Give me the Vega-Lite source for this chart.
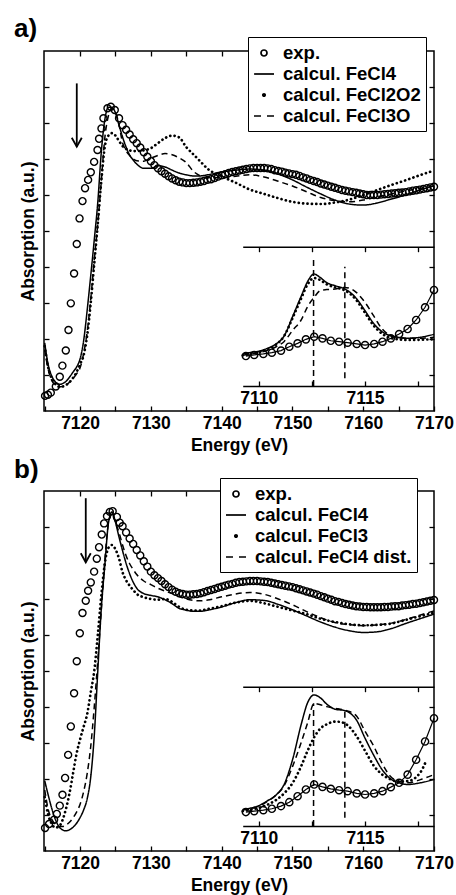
{
"$schema":"https://vega.github.io/schema/vega-lite/v6.json",
"background":"white",
"padding":{"left":13,"top":14,"right":0,"bottom":0},
"spacing":0,
"config":{
 "font":"Liberation Sans",
 "view":{"stroke":"black","strokeWidth":1.5},
 "axis":{"labelFont":"Liberation Sans","labelFontSize":17.5,"labelFontWeight":"bold","labelColor":"black","titleFont":"Liberation Sans","titleFontSize":17.5,"titleFontWeight":"bold","titleColor":"black","tickColor":"black","tickWidth":1.3,"domainColor":"black","domainWidth":1.5,"grid":false},
 "legend":{"labelFont":"Liberation Sans"},
 "title":{"font":"Liberation Sans","color":"black"}
},
"datasets":{
"aexp":[
{"E":7115.05,"A":0.42},{"E":7115.45,"A":0.45},{"E":7115.86,"A":0.51},{"E":7116.57,"A":0.68},{"E":7117.13,"A":0.95},{"E":7117.5,"A":1.26},{"E":7117.98,"A":1.68},{"E":7118.36,"A":2.25},{"E":7118.69,"A":2.99},{"E":7119.15,"A":3.82},{"E":7119.53,"A":4.64},{"E":7119.92,"A":5.35},{"E":7120.34,"A":5.83},{"E":7120.7,"A":6.19},{"E":7121.13,"A":6.42},{"E":7121.51,"A":6.63},{"E":7121.98,"A":6.92},{"E":7122.46,"A":7.25},{"E":7122.68,"A":7.56},{"E":7123.02,"A":7.85},{"E":7123.3,"A":8.13},{"E":7123.87,"A":8.41},{"E":7124.34,"A":8.45},{"E":7124.9,"A":8.36},{"E":7125.5,"A":8.13},
{"E":7126,"A":7.94},{"E":7126.5,"A":7.81},{"E":7127,"A":7.68},{"E":7127.5,"A":7.55},{"E":7128,"A":7.44},{"E":7128.5,"A":7.32},{"E":7129,"A":7.19},{"E":7129.5,"A":7.06},{"E":7130,"A":6.94},{"E":7130.5,"A":6.83},{"E":7131,"A":6.74},{"E":7131.5,"A":6.66},{"E":7132,"A":6.59},{"E":7132.5,"A":6.52},{"E":7133,"A":6.46},{"E":7133.5,"A":6.41},{"E":7134,"A":6.37},{"E":7134.5,"A":6.35},{"E":7135,"A":6.33},{"E":7135.5,"A":6.33},{"E":7136,"A":6.34},{"E":7136.5,"A":6.35},{"E":7137,"A":6.37},{"E":7137.5,"A":6.39},{"E":7138,"A":6.42},{"E":7138.5,"A":6.44},{"E":7139,"A":6.47},{"E":7139.5,"A":6.51},{"E":7140,"A":6.55},{"E":7140.5,"A":6.58},{"E":7141,"A":6.61},{"E":7141.5,"A":6.64},{"E":7142,"A":6.66},{"E":7142.5,"A":6.68},{"E":7143,"A":6.7},{"E":7143.5,"A":6.72},{"E":7144,"A":6.74},{"E":7144.5,"A":6.75},{"E":7145,"A":6.75},{"E":7145.5,"A":6.75},{"E":7146,"A":6.75},{"E":7146.5,"A":6.74},{"E":7147,"A":6.72},{"E":7147.5,"A":6.69},{"E":7148,"A":6.67},{"E":7148.5,"A":6.65},{"E":7149,"A":6.62},{"E":7149.5,"A":6.6},{"E":7150,"A":6.58},{"E":7150.5,"A":6.56},{"E":7151,"A":6.53},{"E":7151.5,"A":6.49},{"E":7152,"A":6.46},{"E":7152.5,"A":6.42},{"E":7153,"A":6.39},{"E":7153.5,"A":6.36},{"E":7154,"A":6.32},{"E":7154.5,"A":6.29},{"E":7155,"A":6.26},{"E":7155.5,"A":6.23},{"E":7156,"A":6.2},{"E":7156.5,"A":6.17},{"E":7157,"A":6.14},{"E":7157.5,"A":6.12},{"E":7158,"A":6.1},{"E":7158.5,"A":6.08},{"E":7159,"A":6.06},{"E":7159.5,"A":6.04},{"E":7160,"A":6.02},{"E":7160.5,"A":6.0},{"E":7161,"A":6.0},{"E":7161.5,"A":6.0},{"E":7162,"A":6.0},{"E":7162.5,"A":6.01},{"E":7163,"A":6.02},{"E":7163.5,"A":6.03},{"E":7164,"A":6.04},{"E":7164.5,"A":6.05},{"E":7165,"A":6.06},{"E":7165.5,"A":6.07},{"E":7166,"A":6.08},{"E":7166.5,"A":6.1},{"E":7167,"A":6.12},{"E":7167.5,"A":6.13},{"E":7168,"A":6.15},{"E":7168.5,"A":6.17},{"E":7169,"A":6.19},{"E":7169.5,"A":6.21},{"E":7170,"A":6.23}
],
"acalc":[
{"E":7115,"A":1.89,"s":"calcul. FeCl4"},{"E":7115.5,"A":1.28,"s":"calcul. FeCl4"},{"E":7116,"A":0.97,"s":"calcul. FeCl4"},{"E":7116.5,"A":0.81,"s":"calcul. FeCl4"},{"E":7117,"A":0.74,"s":"calcul. FeCl4"},{"E":7117.5,"A":0.76,"s":"calcul. FeCl4"},{"E":7118,"A":0.82,"s":"calcul. FeCl4"},{"E":7118.5,"A":0.94,"s":"calcul. FeCl4"},{"E":7119,"A":1.08,"s":"calcul. FeCl4"},{"E":7119.5,"A":1.22,"s":"calcul. FeCl4"},{"E":7120,"A":1.45,"s":"calcul. FeCl4"},{"E":7120.5,"A":1.95,"s":"calcul. FeCl4"},{"E":7121,"A":2.8,"s":"calcul. FeCl4"},{"E":7121.5,"A":3.75,"s":"calcul. FeCl4"},{"E":7122,"A":4.75,"s":"calcul. FeCl4"},{"E":7122.5,"A":5.8,"s":"calcul. FeCl4"},{"E":7123,"A":7.2,"s":"calcul. FeCl4"},{"E":7123.5,"A":8.1,"s":"calcul. FeCl4"},{"E":7124,"A":8.44,"s":"calcul. FeCl4"},{"E":7124.5,"A":8.43,"s":"calcul. FeCl4"},{"E":7125,"A":8.28,"s":"calcul. FeCl4"},{"E":7125.5,"A":7.94,"s":"calcul. FeCl4"},{"E":7126,"A":7.61,"s":"calcul. FeCl4"},{"E":7126.5,"A":7.33,"s":"calcul. FeCl4"},{"E":7127,"A":7.11,"s":"calcul. FeCl4"},{"E":7127.5,"A":6.97,"s":"calcul. FeCl4"},{"E":7128,"A":6.86,"s":"calcul. FeCl4"},{"E":7129,"A":6.74,"s":"calcul. FeCl4"},{"E":7130,"A":6.74,"s":"calcul. FeCl4"},{"E":7131,"A":6.81,"s":"calcul. FeCl4"},{"E":7132,"A":6.78,"s":"calcul. FeCl4"},{"E":7133,"A":6.69,"s":"calcul. FeCl4"},{"E":7134,"A":6.61,"s":"calcul. FeCl4"},{"E":7135,"A":6.56,"s":"calcul. FeCl4"},{"E":7136,"A":6.53,"s":"calcul. FeCl4"},{"E":7137,"A":6.53,"s":"calcul. FeCl4"},{"E":7138,"A":6.56,"s":"calcul. FeCl4"},{"E":7140,"A":6.64,"s":"calcul. FeCl4"},{"E":7142,"A":6.69,"s":"calcul. FeCl4"},{"E":7144,"A":6.72,"s":"calcul. FeCl4"},{"E":7146,"A":6.69,"s":"calcul. FeCl4"},{"E":7148,"A":6.58,"s":"calcul. FeCl4"},{"E":7150,"A":6.42,"s":"calcul. FeCl4"},{"E":7152,"A":6.22,"s":"calcul. FeCl4"},{"E":7154,"A":6.03,"s":"calcul. FeCl4"},{"E":7156,"A":5.86,"s":"calcul. FeCl4"},{"E":7158,"A":5.75,"s":"calcul. FeCl4"},{"E":7160,"A":5.72,"s":"calcul. FeCl4"},{"E":7162,"A":5.78,"s":"calcul. FeCl4"},{"E":7164,"A":5.89,"s":"calcul. FeCl4"},{"E":7166,"A":6.0,"s":"calcul. FeCl4"},{"E":7168,"A":6.14,"s":"calcul. FeCl4"},{"E":7170,"A":6.25,"s":"calcul. FeCl4"},
{"E":7115,"A":1.8,"s":"calcul. FeCl2O2"},{"E":7115.5,"A":1.2,"s":"calcul. FeCl2O2"},{"E":7116,"A":0.9,"s":"calcul. FeCl2O2"},{"E":7116.5,"A":0.75,"s":"calcul. FeCl2O2"},{"E":7117,"A":0.68,"s":"calcul. FeCl2O2"},{"E":7117.5,"A":0.68,"s":"calcul. FeCl2O2"},{"E":7118,"A":0.72,"s":"calcul. FeCl2O2"},{"E":7118.5,"A":0.8,"s":"calcul. FeCl2O2"},{"E":7119,"A":0.92,"s":"calcul. FeCl2O2"},{"E":7119.5,"A":1.08,"s":"calcul. FeCl2O2"},{"E":7120,"A":1.3,"s":"calcul. FeCl2O2"},{"E":7120.5,"A":1.55,"s":"calcul. FeCl2O2"},{"E":7121,"A":2.1,"s":"calcul. FeCl2O2"},{"E":7121.5,"A":3.0,"s":"calcul. FeCl2O2"},{"E":7122,"A":4.1,"s":"calcul. FeCl2O2"},{"E":7122.5,"A":5.2,"s":"calcul. FeCl2O2"},{"E":7123,"A":6.4,"s":"calcul. FeCl2O2"},{"E":7123.5,"A":7.35,"s":"calcul. FeCl2O2"},{"E":7124,"A":7.65,"s":"calcul. FeCl2O2"},{"E":7124.5,"A":7.72,"s":"calcul. FeCl2O2"},{"E":7125,"A":7.65,"s":"calcul. FeCl2O2"},{"E":7125.5,"A":7.5,"s":"calcul. FeCl2O2"},{"E":7126,"A":7.36,"s":"calcul. FeCl2O2"},{"E":7126.5,"A":7.28,"s":"calcul. FeCl2O2"},{"E":7127,"A":7.24,"s":"calcul. FeCl2O2"},{"E":7127.5,"A":7.22,"s":"calcul. FeCl2O2"},{"E":7128,"A":7.22,"s":"calcul. FeCl2O2"},{"E":7129,"A":7.24,"s":"calcul. FeCl2O2"},{"E":7130,"A":7.3,"s":"calcul. FeCl2O2"},{"E":7131,"A":7.44,"s":"calcul. FeCl2O2"},{"E":7132,"A":7.58,"s":"calcul. FeCl2O2"},{"E":7133,"A":7.65,"s":"calcul. FeCl2O2"},{"E":7134,"A":7.6,"s":"calcul. FeCl2O2"},{"E":7135,"A":7.33,"s":"calcul. FeCl2O2"},{"E":7136,"A":7.13,"s":"calcul. FeCl2O2"},{"E":7137,"A":6.93,"s":"calcul. FeCl2O2"},{"E":7138,"A":6.73,"s":"calcul. FeCl2O2"},{"E":7140,"A":6.52,"s":"calcul. FeCl2O2"},{"E":7142,"A":6.34,"s":"calcul. FeCl2O2"},{"E":7144,"A":6.15,"s":"calcul. FeCl2O2"},{"E":7146,"A":6.03,"s":"calcul. FeCl2O2"},{"E":7148,"A":5.91,"s":"calcul. FeCl2O2"},{"E":7150,"A":5.81,"s":"calcul. FeCl2O2"},{"E":7152,"A":5.76,"s":"calcul. FeCl2O2"},{"E":7154,"A":5.75,"s":"calcul. FeCl2O2"},{"E":7156,"A":5.79,"s":"calcul. FeCl2O2"},{"E":7158,"A":5.87,"s":"calcul. FeCl2O2"},{"E":7160,"A":6.0,"s":"calcul. FeCl2O2"},{"E":7162,"A":6.14,"s":"calcul. FeCl2O2"},{"E":7164,"A":6.28,"s":"calcul. FeCl2O2"},{"E":7166,"A":6.41,"s":"calcul. FeCl2O2"},{"E":7168,"A":6.55,"s":"calcul. FeCl2O2"},{"E":7170,"A":6.68,"s":"calcul. FeCl2O2"},
{"E":7115,"A":1.7,"s":"calcul. FeCl3O"},{"E":7115.5,"A":1.15,"s":"calcul. FeCl3O"},{"E":7116,"A":0.85,"s":"calcul. FeCl3O"},{"E":7116.5,"A":0.72,"s":"calcul. FeCl3O"},{"E":7117,"A":0.67,"s":"calcul. FeCl3O"},{"E":7117.5,"A":0.68,"s":"calcul. FeCl3O"},{"E":7118,"A":0.72,"s":"calcul. FeCl3O"},{"E":7118.5,"A":0.8,"s":"calcul. FeCl3O"},{"E":7119,"A":0.9,"s":"calcul. FeCl3O"},{"E":7119.5,"A":1.03,"s":"calcul. FeCl3O"},{"E":7120,"A":1.2,"s":"calcul. FeCl3O"},{"E":7120.5,"A":1.6,"s":"calcul. FeCl3O"},{"E":7121,"A":2.2,"s":"calcul. FeCl3O"},{"E":7121.5,"A":3.1,"s":"calcul. FeCl3O"},{"E":7122,"A":4.2,"s":"calcul. FeCl3O"},{"E":7122.5,"A":5.2,"s":"calcul. FeCl3O"},{"E":7123,"A":6.4,"s":"calcul. FeCl3O"},{"E":7123.5,"A":7.6,"s":"calcul. FeCl3O"},{"E":7124,"A":8.2,"s":"calcul. FeCl3O"},{"E":7124.5,"A":8.4,"s":"calcul. FeCl3O"},{"E":7125,"A":8.3,"s":"calcul. FeCl3O"},{"E":7125.5,"A":7.95,"s":"calcul. FeCl3O"},{"E":7126,"A":7.45,"s":"calcul. FeCl3O"},{"E":7126.5,"A":7.23,"s":"calcul. FeCl3O"},{"E":7127,"A":7.1,"s":"calcul. FeCl3O"},{"E":7127.5,"A":7.0,"s":"calcul. FeCl3O"},{"E":7128,"A":6.95,"s":"calcul. FeCl3O"},{"E":7129,"A":6.94,"s":"calcul. FeCl3O"},{"E":7130,"A":7.02,"s":"calcul. FeCl3O"},{"E":7131,"A":7.1,"s":"calcul. FeCl3O"},{"E":7132,"A":7.15,"s":"calcul. FeCl3O"},{"E":7133,"A":7.12,"s":"calcul. FeCl3O"},{"E":7134,"A":7.03,"s":"calcul. FeCl3O"},{"E":7135,"A":6.9,"s":"calcul. FeCl3O"},{"E":7136,"A":6.66,"s":"calcul. FeCl3O"},{"E":7137,"A":6.53,"s":"calcul. FeCl3O"},{"E":7138,"A":6.48,"s":"calcul. FeCl3O"},{"E":7140,"A":6.48,"s":"calcul. FeCl3O"},{"E":7142,"A":6.52,"s":"calcul. FeCl3O"},{"E":7144,"A":6.56,"s":"calcul. FeCl3O"},{"E":7146,"A":6.5,"s":"calcul. FeCl3O"},{"E":7148,"A":6.38,"s":"calcul. FeCl3O"},{"E":7150,"A":6.25,"s":"calcul. FeCl3O"},{"E":7152,"A":6.09,"s":"calcul. FeCl3O"},{"E":7154,"A":5.93,"s":"calcul. FeCl3O"},{"E":7156,"A":5.84,"s":"calcul. FeCl3O"},{"E":7158,"A":5.81,"s":"calcul. FeCl3O"},{"E":7160,"A":5.86,"s":"calcul. FeCl3O"},{"E":7162,"A":5.95,"s":"calcul. FeCl3O"},{"E":7164,"A":6.03,"s":"calcul. FeCl3O"},{"E":7166,"A":6.11,"s":"calcul. FeCl3O"},{"E":7168,"A":6.18,"s":"calcul. FeCl3O"},{"E":7170,"A":6.25,"s":"calcul. FeCl3O"}
],
"ainexp":[
{"E":7109.4,"A":2.15},{"E":7109.79,"A":2.23},{"E":7110.22,"A":2.3},{"E":7110.62,"A":2.39},{"E":7111.05,"A":2.54},{"E":7111.44,"A":2.82},{"E":7111.83,"A":3.06},{"E":7112.22,"A":3.35},{"E":7112.61,"A":3.54},{"E":7113.0,"A":3.42},{"E":7113.39,"A":3.25},{"E":7113.78,"A":3.18},{"E":7114.18,"A":3.11},{"E":7114.61,"A":3.02},{"E":7115.0,"A":2.94},{"E":7115.43,"A":3.02},{"E":7115.82,"A":3.18},{"E":7116.21,"A":3.42},{"E":7116.6,"A":3.73},{"E":7117.0,"A":4.09},{"E":7117.4,"A":4.74},{"E":7117.82,"A":5.65},{"E":7118.24,"A":6.89}
],
"aincalc":[
{"E":7109.25,"A":2.3,"s":"calcul. FeCl4"},{"E":7109.6,"A":2.4,"s":"calcul. FeCl4"},{"E":7110,"A":2.5,"s":"calcul. FeCl4"},{"E":7110.4,"A":2.7,"s":"calcul. FeCl4"},{"E":7110.8,"A":3.0,"s":"calcul. FeCl4"},{"E":7111.2,"A":3.6,"s":"calcul. FeCl4"},{"E":7111.6,"A":5.0,"s":"calcul. FeCl4"},{"E":7112,"A":6.45,"s":"calcul. FeCl4"},{"E":7112.3,"A":7.5,"s":"calcul. FeCl4"},{"E":7112.6,"A":8.04,"s":"calcul. FeCl4"},{"E":7112.9,"A":7.78,"s":"calcul. FeCl4"},{"E":7113.2,"A":7.42,"s":"calcul. FeCl4"},{"E":7113.6,"A":7.2,"s":"calcul. FeCl4"},{"E":7114,"A":7.0,"s":"calcul. FeCl4"},{"E":7114.3,"A":6.72,"s":"calcul. FeCl4"},{"E":7114.6,"A":6.27,"s":"calcul. FeCl4"},{"E":7115,"A":5.4,"s":"calcul. FeCl4"},{"E":7115.4,"A":4.5,"s":"calcul. FeCl4"},{"E":7115.8,"A":3.9,"s":"calcul. FeCl4"},{"E":7116.2,"A":3.6,"s":"calcul. FeCl4"},{"E":7116.6,"A":3.48,"s":"calcul. FeCl4"},{"E":7117,"A":3.43,"s":"calcul. FeCl4"},{"E":7117.6,"A":3.5,"s":"calcul. FeCl4"},{"E":7118.24,"A":3.71,"s":"calcul. FeCl4"},
{"E":7109.25,"A":2.2,"s":"calcul. FeCl2O2"},{"E":7109.6,"A":2.3,"s":"calcul. FeCl2O2"},{"E":7110,"A":2.42,"s":"calcul. FeCl2O2"},{"E":7110.4,"A":2.62,"s":"calcul. FeCl2O2"},{"E":7110.8,"A":2.95,"s":"calcul. FeCl2O2"},{"E":7111.2,"A":3.6,"s":"calcul. FeCl2O2"},{"E":7111.6,"A":4.9,"s":"calcul. FeCl2O2"},{"E":7112,"A":6.3,"s":"calcul. FeCl2O2"},{"E":7112.3,"A":7.3,"s":"calcul. FeCl2O2"},{"E":7112.6,"A":7.75,"s":"calcul. FeCl2O2"},{"E":7112.9,"A":7.6,"s":"calcul. FeCl2O2"},{"E":7113.2,"A":7.3,"s":"calcul. FeCl2O2"},{"E":7113.6,"A":7.08,"s":"calcul. FeCl2O2"},{"E":7114,"A":6.9,"s":"calcul. FeCl2O2"},{"E":7114.3,"A":6.62,"s":"calcul. FeCl2O2"},{"E":7114.6,"A":6.15,"s":"calcul. FeCl2O2"},{"E":7115,"A":5.25,"s":"calcul. FeCl2O2"},{"E":7115.4,"A":4.35,"s":"calcul. FeCl2O2"},{"E":7115.8,"A":3.75,"s":"calcul. FeCl2O2"},{"E":7116.2,"A":3.45,"s":"calcul. FeCl2O2"},{"E":7116.6,"A":3.35,"s":"calcul. FeCl2O2"},{"E":7117,"A":3.3,"s":"calcul. FeCl2O2"},{"E":7117.6,"A":3.32,"s":"calcul. FeCl2O2"},{"E":7118.24,"A":3.36,"s":"calcul. FeCl2O2"},
{"E":7109.25,"A":2.2,"s":"calcul. FeCl3O"},{"E":7109.6,"A":2.3,"s":"calcul. FeCl3O"},{"E":7110,"A":2.4,"s":"calcul. FeCl3O"},{"E":7110.4,"A":2.55,"s":"calcul. FeCl3O"},{"E":7110.8,"A":2.8,"s":"calcul. FeCl3O"},{"E":7111.2,"A":3.2,"s":"calcul. FeCl3O"},{"E":7111.6,"A":4.0,"s":"calcul. FeCl3O"},{"E":7112,"A":4.75,"s":"calcul. FeCl3O"},{"E":7112.3,"A":5.7,"s":"calcul. FeCl3O"},{"E":7112.6,"A":6.35,"s":"calcul. FeCl3O"},{"E":7112.9,"A":6.85,"s":"calcul. FeCl3O"},{"E":7113.2,"A":6.92,"s":"calcul. FeCl3O"},{"E":7113.6,"A":6.97,"s":"calcul. FeCl3O"},{"E":7114,"A":7.08,"s":"calcul. FeCl3O"},{"E":7114.3,"A":7.0,"s":"calcul. FeCl3O"},{"E":7114.6,"A":6.7,"s":"calcul. FeCl3O"},{"E":7115,"A":6.0,"s":"calcul. FeCl3O"},{"E":7115.4,"A":5.05,"s":"calcul. FeCl3O"},{"E":7115.8,"A":4.1,"s":"calcul. FeCl3O"},{"E":7116.2,"A":3.62,"s":"calcul. FeCl3O"},{"E":7116.6,"A":3.48,"s":"calcul. FeCl3O"},{"E":7117,"A":3.43,"s":"calcul. FeCl3O"},{"E":7117.6,"A":3.42,"s":"calcul. FeCl3O"},{"E":7118.24,"A":3.5,"s":"calcul. FeCl3O"}
],
"avl":[{"E":7112.58,"y0":0,"y1":9.05},{"E":7114.05,"y0":0.55,"y1":8.56}],
"aarrow":[{"E":7119.53,"y0":9.1,"y1":7.34}],
"bexp":[
{"E":7115.05,"A":0.64},{"E":7115.62,"A":0.75},{"E":7116.33,"A":0.87},{"E":7116.71,"A":1.03},{"E":7117.13,"A":1.26},{"E":7117.51,"A":1.56},{"E":7117.88,"A":2.03},{"E":7118.31,"A":2.67},{"E":7118.69,"A":3.46},{"E":7119.15,"A":4.38},{"E":7119.53,"A":5.27},{"E":7119.96,"A":6.05},{"E":7120.34,"A":6.61},{"E":7120.8,"A":6.95},{"E":7121.13,"A":7.23},{"E":7121.51,"A":7.46},{"E":7121.98,"A":7.76},{"E":7122.36,"A":8.12},{"E":7122.68,"A":8.44},{"E":7123.06,"A":8.79},{"E":7123.39,"A":9.1},{"E":7123.8,"A":9.3},{"E":7124.2,"A":9.42},{"E":7124.6,"A":9.44},{"E":7125.2,"A":9.28},{"E":7125.6,"A":9.12},
{"E":7126,"A":9.02},{"E":7126.5,"A":8.85},{"E":7127,"A":8.68},{"E":7127.5,"A":8.53},{"E":7128,"A":8.36},{"E":7128.5,"A":8.21},{"E":7129,"A":8.05},{"E":7129.5,"A":7.9},{"E":7130,"A":7.76},{"E":7130.5,"A":7.66},{"E":7131,"A":7.58},{"E":7131.5,"A":7.5},{"E":7132,"A":7.41},{"E":7132.5,"A":7.33},{"E":7133,"A":7.26},{"E":7133.5,"A":7.2},{"E":7134,"A":7.16},{"E":7134.5,"A":7.14},{"E":7135,"A":7.12},{"E":7135.5,"A":7.12},{"E":7136,"A":7.13},{"E":7136.5,"A":7.14},{"E":7137,"A":7.16},{"E":7137.5,"A":7.19},{"E":7138,"A":7.22},{"E":7138.5,"A":7.25},{"E":7139,"A":7.28},{"E":7139.5,"A":7.31},{"E":7140,"A":7.34},{"E":7140.5,"A":7.37},{"E":7141,"A":7.4},{"E":7141.5,"A":7.42},{"E":7142,"A":7.45},{"E":7142.5,"A":7.47},{"E":7143,"A":7.48},{"E":7143.5,"A":7.49},{"E":7144,"A":7.5},{"E":7144.5,"A":7.5},{"E":7145,"A":7.5},{"E":7145.5,"A":7.49},{"E":7146,"A":7.48},{"E":7146.5,"A":7.47},{"E":7147,"A":7.45},{"E":7147.5,"A":7.43},{"E":7148,"A":7.41},{"E":7148.5,"A":7.39},{"E":7149,"A":7.37},{"E":7149.5,"A":7.35},{"E":7150,"A":7.33},{"E":7150.5,"A":7.3},{"E":7151,"A":7.27},{"E":7151.5,"A":7.24},{"E":7152,"A":7.21},{"E":7152.5,"A":7.18},{"E":7153,"A":7.15},{"E":7153.5,"A":7.12},{"E":7154,"A":7.08},{"E":7154.5,"A":7.05},{"E":7155,"A":7.01},{"E":7155.5,"A":6.98},{"E":7156,"A":6.94},{"E":7156.5,"A":6.92},{"E":7157,"A":6.89},{"E":7157.5,"A":6.86},{"E":7158,"A":6.84},{"E":7158.5,"A":6.82},{"E":7159,"A":6.8},{"E":7159.5,"A":6.79},{"E":7160,"A":6.78},{"E":7160.5,"A":6.78},{"E":7161,"A":6.77},{"E":7161.5,"A":6.77},{"E":7162,"A":6.77},{"E":7162.5,"A":6.77},{"E":7163,"A":6.78},{"E":7163.5,"A":6.78},{"E":7164,"A":6.79},{"E":7164.5,"A":6.8},{"E":7165,"A":6.8},{"E":7165.5,"A":6.82},{"E":7166,"A":6.83},{"E":7166.5,"A":6.84},{"E":7167,"A":6.86},{"E":7167.5,"A":6.87},{"E":7168,"A":6.89},{"E":7168.5,"A":6.91},{"E":7169,"A":6.93},{"E":7169.5,"A":6.95},{"E":7170,"A":6.97}
],
"bcalc":[
{"E":7115,"A":1.95,"s":"calcul. FeCl4"},{"E":7115.5,"A":1.55,"s":"calcul. FeCl4"},{"E":7116,"A":1.18,"s":"calcul. FeCl4"},{"E":7116.5,"A":0.88,"s":"calcul. FeCl4"},{"E":7117,"A":0.68,"s":"calcul. FeCl4"},{"E":7117.5,"A":0.59,"s":"calcul. FeCl4"},{"E":7118,"A":0.56,"s":"calcul. FeCl4"},{"E":7118.5,"A":0.59,"s":"calcul. FeCl4"},{"E":7119,"A":0.66,"s":"calcul. FeCl4"},{"E":7119.5,"A":0.77,"s":"calcul. FeCl4"},{"E":7120,"A":0.93,"s":"calcul. FeCl4"},{"E":7120.5,"A":1.14,"s":"calcul. FeCl4"},{"E":7121,"A":1.45,"s":"calcul. FeCl4"},{"E":7121.5,"A":2.05,"s":"calcul. FeCl4"},{"E":7122,"A":3.2,"s":"calcul. FeCl4"},{"E":7122.5,"A":5.0,"s":"calcul. FeCl4"},{"E":7123,"A":6.75,"s":"calcul. FeCl4"},{"E":7123.5,"A":7.95,"s":"calcul. FeCl4"},{"E":7124,"A":9.1,"s":"calcul. FeCl4"},{"E":7124.5,"A":9.42,"s":"calcul. FeCl4"},{"E":7125,"A":9.13,"s":"calcul. FeCl4"},{"E":7125.5,"A":8.72,"s":"calcul. FeCl4"},{"E":7126,"A":8.34,"s":"calcul. FeCl4"},{"E":7126.5,"A":7.99,"s":"calcul. FeCl4"},{"E":7127,"A":7.7,"s":"calcul. FeCl4"},{"E":7127.5,"A":7.47,"s":"calcul. FeCl4"},{"E":7128,"A":7.3,"s":"calcul. FeCl4"},{"E":7129,"A":7.15,"s":"calcul. FeCl4"},{"E":7130,"A":7.1,"s":"calcul. FeCl4"},{"E":7131,"A":7.06,"s":"calcul. FeCl4"},{"E":7132,"A":6.98,"s":"calcul. FeCl4"},{"E":7133,"A":6.87,"s":"calcul. FeCl4"},{"E":7134,"A":6.74,"s":"calcul. FeCl4"},{"E":7135,"A":6.69,"s":"calcul. FeCl4"},{"E":7136,"A":6.66,"s":"calcul. FeCl4"},{"E":7137,"A":6.66,"s":"calcul. FeCl4"},{"E":7138,"A":6.69,"s":"calcul. FeCl4"},{"E":7140,"A":6.78,"s":"calcul. FeCl4"},{"E":7142,"A":6.9,"s":"calcul. FeCl4"},{"E":7144,"A":6.98,"s":"calcul. FeCl4"},{"E":7146,"A":6.96,"s":"calcul. FeCl4"},{"E":7148,"A":6.85,"s":"calcul. FeCl4"},{"E":7150,"A":6.7,"s":"calcul. FeCl4"},{"E":7152,"A":6.53,"s":"calcul. FeCl4"},{"E":7154,"A":6.36,"s":"calcul. FeCl4"},{"E":7156,"A":6.22,"s":"calcul. FeCl4"},{"E":7158,"A":6.12,"s":"calcul. FeCl4"},{"E":7160,"A":6.07,"s":"calcul. FeCl4"},{"E":7162,"A":6.09,"s":"calcul. FeCl4"},{"E":7164,"A":6.18,"s":"calcul. FeCl4"},{"E":7166,"A":6.32,"s":"calcul. FeCl4"},{"E":7168,"A":6.45,"s":"calcul. FeCl4"},{"E":7170,"A":6.58,"s":"calcul. FeCl4"},
{"E":7115,"A":1.5,"s":"calcul. FeCl3"},{"E":7115.5,"A":1.0,"s":"calcul. FeCl3"},{"E":7116,"A":0.75,"s":"calcul. FeCl3"},{"E":7116.5,"A":0.65,"s":"calcul. FeCl3"},{"E":7117,"A":0.68,"s":"calcul. FeCl3"},{"E":7117.5,"A":0.85,"s":"calcul. FeCl3"},{"E":7118,"A":1.17,"s":"calcul. FeCl3"},{"E":7118.5,"A":1.6,"s":"calcul. FeCl3"},{"E":7119,"A":2.15,"s":"calcul. FeCl3"},{"E":7119.5,"A":2.7,"s":"calcul. FeCl3"},{"E":7120,"A":3.1,"s":"calcul. FeCl3"},{"E":7120.5,"A":3.45,"s":"calcul. FeCl3"},{"E":7121,"A":3.8,"s":"calcul. FeCl3"},{"E":7121.5,"A":4.4,"s":"calcul. FeCl3"},{"E":7122,"A":5.0,"s":"calcul. FeCl3"},{"E":7122.5,"A":6.0,"s":"calcul. FeCl3"},{"E":7123,"A":7.1,"s":"calcul. FeCl3"},{"E":7123.5,"A":8.0,"s":"calcul. FeCl3"},{"E":7124,"A":8.42,"s":"calcul. FeCl3"},{"E":7124.5,"A":8.5,"s":"calcul. FeCl3"},{"E":7125,"A":8.38,"s":"calcul. FeCl3"},{"E":7125.5,"A":8.12,"s":"calcul. FeCl3"},{"E":7126,"A":7.74,"s":"calcul. FeCl3"},{"E":7126.5,"A":7.52,"s":"calcul. FeCl3"},{"E":7127,"A":7.37,"s":"calcul. FeCl3"},{"E":7127.5,"A":7.25,"s":"calcul. FeCl3"},{"E":7128,"A":7.14,"s":"calcul. FeCl3"},{"E":7129,"A":7.05,"s":"calcul. FeCl3"},{"E":7130,"A":7.0,"s":"calcul. FeCl3"},{"E":7131,"A":6.98,"s":"calcul. FeCl3"},{"E":7132,"A":7.0,"s":"calcul. FeCl3"},{"E":7133,"A":6.92,"s":"calcul. FeCl3"},{"E":7134,"A":6.78,"s":"calcul. FeCl3"},{"E":7135,"A":6.7,"s":"calcul. FeCl3"},{"E":7136,"A":6.68,"s":"calcul. FeCl3"},{"E":7137,"A":6.68,"s":"calcul. FeCl3"},{"E":7138,"A":6.72,"s":"calcul. FeCl3"},{"E":7140,"A":6.8,"s":"calcul. FeCl3"},{"E":7142,"A":6.9,"s":"calcul. FeCl3"},{"E":7144,"A":6.95,"s":"calcul. FeCl3"},{"E":7146,"A":6.88,"s":"calcul. FeCl3"},{"E":7148,"A":6.78,"s":"calcul. FeCl3"},{"E":7150,"A":6.68,"s":"calcul. FeCl3"},{"E":7152,"A":6.58,"s":"calcul. FeCl3"},{"E":7154,"A":6.45,"s":"calcul. FeCl3"},{"E":7156,"A":6.36,"s":"calcul. FeCl3"},{"E":7158,"A":6.3,"s":"calcul. FeCl3"},{"E":7160,"A":6.27,"s":"calcul. FeCl3"},{"E":7162,"A":6.28,"s":"calcul. FeCl3"},{"E":7164,"A":6.32,"s":"calcul. FeCl3"},{"E":7166,"A":6.42,"s":"calcul. FeCl3"},{"E":7168,"A":6.52,"s":"calcul. FeCl3"},{"E":7170,"A":6.62,"s":"calcul. FeCl3"},
{"E":7115,"A":1.7,"s":"calcul. FeCl4 dist."},{"E":7115.5,"A":1.15,"s":"calcul. FeCl4 dist."},{"E":7116,"A":0.88,"s":"calcul. FeCl4 dist."},{"E":7116.5,"A":0.74,"s":"calcul. FeCl4 dist."},{"E":7117,"A":0.68,"s":"calcul. FeCl4 dist."},{"E":7117.5,"A":0.68,"s":"calcul. FeCl4 dist."},{"E":7118,"A":0.72,"s":"calcul. FeCl4 dist."},{"E":7118.5,"A":0.8,"s":"calcul. FeCl4 dist."},{"E":7119,"A":0.92,"s":"calcul. FeCl4 dist."},{"E":7119.5,"A":1.08,"s":"calcul. FeCl4 dist."},{"E":7120,"A":1.3,"s":"calcul. FeCl4 dist."},{"E":7120.5,"A":1.65,"s":"calcul. FeCl4 dist."},{"E":7121,"A":2.15,"s":"calcul. FeCl4 dist."},{"E":7121.5,"A":2.9,"s":"calcul. FeCl4 dist."},{"E":7122,"A":4.0,"s":"calcul. FeCl4 dist."},{"E":7122.5,"A":5.3,"s":"calcul. FeCl4 dist."},{"E":7123,"A":6.7,"s":"calcul. FeCl4 dist."},{"E":7123.5,"A":8.1,"s":"calcul. FeCl4 dist."},{"E":7124,"A":9.1,"s":"calcul. FeCl4 dist."},{"E":7124.5,"A":9.38,"s":"calcul. FeCl4 dist."},{"E":7125,"A":9.12,"s":"calcul. FeCl4 dist."},{"E":7125.5,"A":8.85,"s":"calcul. FeCl4 dist."},{"E":7126,"A":8.5,"s":"calcul. FeCl4 dist."},{"E":7126.5,"A":8.2,"s":"calcul. FeCl4 dist."},{"E":7127,"A":7.98,"s":"calcul. FeCl4 dist."},{"E":7127.5,"A":7.82,"s":"calcul. FeCl4 dist."},{"E":7128,"A":7.68,"s":"calcul. FeCl4 dist."},{"E":7129,"A":7.5,"s":"calcul. FeCl4 dist."},{"E":7130,"A":7.4,"s":"calcul. FeCl4 dist."},{"E":7131,"A":7.3,"s":"calcul. FeCl4 dist."},{"E":7132,"A":7.22,"s":"calcul. FeCl4 dist."},{"E":7133,"A":7.15,"s":"calcul. FeCl4 dist."},{"E":7134,"A":7.07,"s":"calcul. FeCl4 dist."},{"E":7135,"A":7.0,"s":"calcul. FeCl4 dist."},{"E":7136,"A":6.96,"s":"calcul. FeCl4 dist."},{"E":7137,"A":6.95,"s":"calcul. FeCl4 dist."},{"E":7138,"A":6.97,"s":"calcul. FeCl4 dist."},{"E":7140,"A":7.06,"s":"calcul. FeCl4 dist."},{"E":7142,"A":7.14,"s":"calcul. FeCl4 dist."},{"E":7144,"A":7.18,"s":"calcul. FeCl4 dist."},{"E":7146,"A":7.13,"s":"calcul. FeCl4 dist."},{"E":7148,"A":7.0,"s":"calcul. FeCl4 dist."},{"E":7150,"A":6.84,"s":"calcul. FeCl4 dist."},{"E":7152,"A":6.65,"s":"calcul. FeCl4 dist."},{"E":7154,"A":6.48,"s":"calcul. FeCl4 dist."},{"E":7156,"A":6.35,"s":"calcul. FeCl4 dist."},{"E":7158,"A":6.29,"s":"calcul. FeCl4 dist."},{"E":7160,"A":6.26,"s":"calcul. FeCl4 dist."},{"E":7162,"A":6.28,"s":"calcul. FeCl4 dist."},{"E":7164,"A":6.33,"s":"calcul. FeCl4 dist."},{"E":7166,"A":6.43,"s":"calcul. FeCl4 dist."},{"E":7168,"A":6.55,"s":"calcul. FeCl4 dist."},{"E":7170,"A":6.67,"s":"calcul. FeCl4 dist."}
],
"binexp":[
{"E":7109.4,"A":1.0},{"E":7109.79,"A":1.07},{"E":7110.22,"A":1.14},{"E":7110.62,"A":1.24},{"E":7111.05,"A":1.43},{"E":7111.44,"A":1.71},{"E":7111.83,"A":2.14},{"E":7112.22,"A":2.62},{"E":7112.61,"A":2.98},{"E":7113.0,"A":2.81},{"E":7113.39,"A":2.67},{"E":7113.78,"A":2.57},{"E":7114.18,"A":2.5},{"E":7114.61,"A":2.34},{"E":7115.0,"A":2.26},{"E":7115.43,"A":2.34},{"E":7115.82,"A":2.5},{"E":7116.21,"A":2.79},{"E":7116.6,"A":3.1},{"E":7117.0,"A":3.69},{"E":7117.4,"A":4.76},{"E":7117.82,"A":6.07},{"E":7118.24,"A":7.74}
],
"bincalc":[
{"E":7109.25,"A":1.19,"s":"calcul. FeCl4"},{"E":7109.6,"A":1.28,"s":"calcul. FeCl4"},{"E":7110,"A":1.45,"s":"calcul. FeCl4"},{"E":7110.4,"A":1.8,"s":"calcul. FeCl4"},{"E":7110.8,"A":2.2,"s":"calcul. FeCl4"},{"E":7111.2,"A":3.0,"s":"calcul. FeCl4"},{"E":7111.6,"A":4.8,"s":"calcul. FeCl4"},{"E":7112,"A":7.3,"s":"calcul. FeCl4"},{"E":7112.3,"A":8.85,"s":"calcul. FeCl4"},{"E":7112.6,"A":9.41,"s":"calcul. FeCl4"},{"E":7112.9,"A":9.2,"s":"calcul. FeCl4"},{"E":7113.2,"A":8.75,"s":"calcul. FeCl4"},{"E":7113.6,"A":8.38,"s":"calcul. FeCl4"},{"E":7114,"A":8.3,"s":"calcul. FeCl4"},{"E":7114.3,"A":8.1,"s":"calcul. FeCl4"},{"E":7114.6,"A":7.6,"s":"calcul. FeCl4"},{"E":7115,"A":6.3,"s":"calcul. FeCl4"},{"E":7115.4,"A":5.1,"s":"calcul. FeCl4"},{"E":7115.8,"A":4.05,"s":"calcul. FeCl4"},{"E":7116.2,"A":3.38,"s":"calcul. FeCl4"},{"E":7116.6,"A":3.1,"s":"calcul. FeCl4"},{"E":7117,"A":2.98,"s":"calcul. FeCl4"},{"E":7117.6,"A":3.1,"s":"calcul. FeCl4"},{"E":7118.24,"A":3.34,"s":"calcul. FeCl4"},
{"E":7109.25,"A":1.07,"s":"calcul. FeCl3"},{"E":7109.6,"A":1.15,"s":"calcul. FeCl3"},{"E":7110,"A":1.3,"s":"calcul. FeCl3"},{"E":7110.4,"A":1.52,"s":"calcul. FeCl3"},{"E":7110.8,"A":1.85,"s":"calcul. FeCl3"},{"E":7111.2,"A":2.35,"s":"calcul. FeCl3"},{"E":7111.6,"A":3.1,"s":"calcul. FeCl3"},{"E":7112,"A":4.3,"s":"calcul. FeCl3"},{"E":7112.3,"A":5.4,"s":"calcul. FeCl3"},{"E":7112.6,"A":6.35,"s":"calcul. FeCl3"},{"E":7112.9,"A":7.0,"s":"calcul. FeCl3"},{"E":7113.2,"A":7.3,"s":"calcul. FeCl3"},{"E":7113.6,"A":7.5,"s":"calcul. FeCl3"},{"E":7114,"A":7.4,"s":"calcul. FeCl3"},{"E":7114.3,"A":7.05,"s":"calcul. FeCl3"},{"E":7114.6,"A":6.45,"s":"calcul. FeCl3"},{"E":7115,"A":5.4,"s":"calcul. FeCl3"},{"E":7115.4,"A":4.35,"s":"calcul. FeCl3"},{"E":7115.8,"A":3.7,"s":"calcul. FeCl3"},{"E":7116.2,"A":3.35,"s":"calcul. FeCl3"},{"E":7116.6,"A":3.2,"s":"calcul. FeCl3"},{"E":7117,"A":3.22,"s":"calcul. FeCl3"},{"E":7117.6,"A":3.85,"s":"calcul. FeCl3"},{"E":7117.85,"A":4.6,"s":"calcul. FeCl3"},
{"E":7109.25,"A":1.15,"s":"calcul. FeCl4 dist."},{"E":7109.6,"A":1.25,"s":"calcul. FeCl4 dist."},{"E":7110,"A":1.42,"s":"calcul. FeCl4 dist."},{"E":7110.4,"A":1.75,"s":"calcul. FeCl4 dist."},{"E":7110.8,"A":2.2,"s":"calcul. FeCl4 dist."},{"E":7111.2,"A":2.9,"s":"calcul. FeCl4 dist."},{"E":7111.6,"A":4.3,"s":"calcul. FeCl4 dist."},{"E":7112,"A":6.0,"s":"calcul. FeCl4 dist."},{"E":7112.3,"A":7.4,"s":"calcul. FeCl4 dist."},{"E":7112.6,"A":8.8,"s":"calcul. FeCl4 dist."},{"E":7112.9,"A":8.7,"s":"calcul. FeCl4 dist."},{"E":7113.2,"A":8.57,"s":"calcul. FeCl4 dist."},{"E":7113.6,"A":8.45,"s":"calcul. FeCl4 dist."},{"E":7114,"A":8.33,"s":"calcul. FeCl4 dist."},{"E":7114.3,"A":8.2,"s":"calcul. FeCl4 dist."},{"E":7114.6,"A":7.9,"s":"calcul. FeCl4 dist."},{"E":7115,"A":6.8,"s":"calcul. FeCl4 dist."},{"E":7115.4,"A":5.75,"s":"calcul. FeCl4 dist."},{"E":7115.8,"A":4.5,"s":"calcul. FeCl4 dist."},{"E":7116.2,"A":3.55,"s":"calcul. FeCl4 dist."},{"E":7116.6,"A":3.2,"s":"calcul. FeCl4 dist."},{"E":7117,"A":3.1,"s":"calcul. FeCl4 dist."},{"E":7117.6,"A":3.33,"s":"calcul. FeCl4 dist."},{"E":7118.24,"A":3.69,"s":"calcul. FeCl4 dist."}
],
"bvl":[{"E":7112.58,"y0":0,"y1":8.81},{"E":7114.05,"y0":0.6,"y1":8.38}],
"barrow":[{"E":7120.8,"y0":9.8,"y1":8.02}]
},
"vconcat":[
{
"title":{"text":"a)","anchor":"start","frame":"group","fontSize":26,"fontWeight":"bold","dx":-30,"offset":-5},
"width":390,"height":360,
"layer":[
 {"layer":[
  {"data":{"name":"aexp"},
   "mark":{"type":"point","filled":false,"stroke":"black","strokeWidth":1.4,"size":550,"opacity":1},
   "encoding":{
    "x":{"field":"E","type":"quantitative","scale":{"domain":[7114.9,7170],"nice":false,"zero":false},
         "axis":{"orient":"bottom","values":[7115,7120,7125,7130,7135,7140,7145,7150,7155,7160,7165,7170],"format":"d","labelExpr":"datum.value % 10 == 0 ? datum.label : ''","tickSize":-5,"labelPadding":8,"domain":false,"labelFlush":false,"labelOverlap":false,"title":"Energy (eV)","titlePadding":5}},
    "y":{"field":"A","type":"quantitative","scale":{"domain":[0,10],"nice":false,"zero":false},
         "axis":{"orient":"left","values":[1,2,3,4,5,6,7,8,9],"tickSize":-5,"labels":false,"domain":false,"title":"Absorption (a.u.)","titlePadding":6}},
    "shape":{"datum":"exp.","type":"nominal",
      "scale":{"domain":["exp.","calcul. FeCl4","calcul. FeCl2O2","calcul. FeCl3O"],"range":["M-0.3,0A0.3,0.3 0 1,0 0.3,0A0.3,0.3 0 1,0 -0.3,0","M-1,0L1,0","M-0.12,0A0.12,0.12 0 1,0 0.12,0A0.12,0.12 0 1,0 -0.12,0M-0.05,0L0.05,0","M-1,0L-0.3,0M0.3,0L1,0"]},
      "legend":{"orient":"none","legendX":204,"legendY":-14,"title":null,"strokeColor":"black","fillColor":"white","padding":5,"labelFontSize":18.5,"labelFontWeight":"bold","labelColor":"black","labelOffset":8,"rowPadding":-0.7,"symbolSize":400,"symbolStrokeWidth":1.7,"symbolStrokeColor":"black","symbolFillColor":"transparent","labelLimit":400,"labelExpr":"datum.label + '    '"}}}},
  {"data":{"name":"acalc"},
   "transform":[{"filter":"datum.s !== 'calcul. FeCl2O2'"}],
   "mark":{"type":"line","color":"black","interpolate":"monotone","strokeWidth":1.5},
   "encoding":{
    "x":{"field":"E","type":"quantitative","scale":{"domain":[7114.9,7170],"nice":false,"zero":false},
         "axis":{"orient":"top","values":[7120,7125,7130,7135,7140,7145,7150,7155,7160,7165],"tickSize":-5,"labels":false,"domain":false,"title":null}},
    "y":{"field":"A","type":"quantitative","scale":{"domain":[0,10],"nice":false,"zero":false},
         "axis":{"orient":"right","values":[1,2,3,4,5,6,7,8,9],"tickSize":-5,"labels":false,"domain":false,"title":null}},
    "strokeDash":{"field":"s","type":"nominal","scale":{"domain":["calcul. FeCl4","calcul. FeCl3O"],"range":[[1,0],[6,4]]},"legend":null}}},
  {"data":{"name":"acalc"},
   "transform":[{"filter":"datum.s === 'calcul. FeCl2O2'"}],
   "mark":{"type":"line","color":"black","interpolate":"monotone","strokeWidth":2.7,"strokeDash":[0.1,4.3],"strokeCap":"round"},
   "encoding":{
    "x":{"field":"E","type":"quantitative","scale":{"domain":[7114.9,7170],"nice":false,"zero":false},"axis":null},
    "y":{"field":"A","type":"quantitative","scale":{"domain":[0,10],"nice":false,"zero":false},"axis":null}}},
  {"data":{"name":"aarrow"},
   "mark":{"type":"rule","color":"black","strokeWidth":1.8},
   "encoding":{
    "x":{"field":"E","type":"quantitative","scale":{"domain":[7114.9,7170],"nice":false,"zero":false},"axis":null},
    "y":{"field":"y0","type":"quantitative","scale":{"domain":[0,10],"nice":false,"zero":false},"axis":null},
    "y2":{"field":"y1"}}},
  {"data":{"name":"aarrow"},
   "mark":{"type":"point","shape":"M-1,-1.8L0,0L1,-1.8","filled":false,"stroke":"black","strokeWidth":1.8,"size":100,"opacity":1},
   "encoding":{
    "x":{"field":"E","type":"quantitative","scale":{"domain":[7114.9,7170],"nice":false,"zero":false},"axis":null},
    "y":{"field":"y1","type":"quantitative","scale":{"domain":[0,10],"nice":false,"zero":false},"axis":null}}}
 ],
 "resolve":{"axis":{"x":"independent","y":"independent"}}},
 {"layer":[
  {"data":{"name":"aincalc"},
   "transform":[{"filter":"datum.s !== 'calcul. FeCl2O2'"}],
   "mark":{"type":"line","color":"black","interpolate":"monotone","strokeWidth":1.5},
   "encoding":{
    "x":{"field":"E","type":"quantitative","scale":{"domain":[7109.25,7118.24],"range":[198.7,390],"nice":false,"zero":false},
         "axis":{"orient":"bottom","offset":-25,"values":[7110,7112.5,7115,7117.5],"format":"d","labelExpr":"datum.value % 5 == 0 ? datum.label : ''","tickSize":-5,"labelPadding":8,"domain":true,"labelFlush":false,"labelOverlap":false,"title":null}},
    "y":{"field":"A","type":"quantitative","scale":{"domain":[0,10],"range":[335,195.7],"nice":false,"zero":false},
         "axis":{"orient":"left","offset":-198.7,"ticks":false,"labels":false,"domain":true,"title":null}},
    "strokeDash":{"field":"s","type":"nominal","legend":null}}},
  {"data":{"name":"aincalc"},
   "transform":[{"filter":"datum.s === 'calcul. FeCl2O2'"}],
   "mark":{"type":"line","color":"black","interpolate":"monotone","strokeWidth":2.7,"strokeDash":[0.1,4.3],"strokeCap":"round"},
   "encoding":{
    "x":{"field":"E","type":"quantitative","scale":{"domain":[7109.25,7118.24],"range":[198.7,390],"nice":false,"zero":false},"axis":null},
    "y":{"field":"A","type":"quantitative","scale":{"domain":[0,10],"range":[335,195.7],"nice":false,"zero":false},"axis":null}}},
  {"data":{"name":"ainexp"},
   "mark":{"type":"line","color":"black","strokeWidth":1.2},
   "encoding":{
    "x":{"field":"E","type":"quantitative","scale":{"domain":[7109.25,7118.24],"range":[198.7,390],"nice":false,"zero":false},
         "axis":{"orient":"top","offset":-195.7,"values":[7110,7112.5,7115,7117.5],"tickSize":-5,"labels":false,"domain":true,"title":null}},
    "y":{"field":"A","type":"quantitative","scale":{"domain":[0,10],"range":[335,195.7],"nice":false,"zero":false},"axis":null}}},
  {"data":{"name":"ainexp"},
   "mark":{"type":"point","shape":"circle","filled":false,"stroke":"black","strokeWidth":1.4,"size":52,"opacity":1},
   "encoding":{
    "x":{"field":"E","type":"quantitative","scale":{"domain":[7109.25,7118.24],"range":[198.7,390],"nice":false,"zero":false},"axis":null},
    "y":{"field":"A","type":"quantitative","scale":{"domain":[0,10],"range":[335,195.7],"nice":false,"zero":false},"axis":null}}},
  {"data":{"name":"avl"},
   "mark":{"type":"rule","color":"black","strokeWidth":1.5,"strokeDash":[6,4]},
   "encoding":{
    "x":{"field":"E","type":"quantitative","scale":{"domain":[7109.25,7118.24],"range":[198.7,390],"nice":false,"zero":false},"axis":null},
    "y":{"field":"y0","type":"quantitative","scale":{"domain":[0,10],"range":[335,195.7],"nice":false,"zero":false},"axis":null},
    "y2":{"field":"y1"}}}
 ],
 "resolve":{"axis":{"x":"independent"}}}
],
"resolve":{"scale":{"x":"independent","y":"independent"}}
},
{
"title":{"text":"b)","anchor":"start","frame":"group","fontSize":26,"fontWeight":"bold","dx":-30,"offset":-5},
"width":390,"height":360,
"layer":[
 {"layer":[
  {"data":{"name":"bexp"},
   "mark":{"type":"point","filled":false,"stroke":"black","strokeWidth":1.4,"size":550,"opacity":1},
   "encoding":{
    "x":{"field":"E","type":"quantitative","scale":{"domain":[7114.9,7170],"nice":false,"zero":false},
         "axis":{"orient":"bottom","values":[7115,7120,7125,7130,7135,7140,7145,7150,7155,7160,7165,7170],"format":"d","labelExpr":"datum.value % 10 == 0 ? datum.label : ''","tickSize":-5,"labelPadding":8,"domain":false,"labelFlush":false,"labelOverlap":false,"title":"Energy (eV)","titlePadding":5}},
    "y":{"field":"A","type":"quantitative","scale":{"domain":[0,10],"nice":false,"zero":false},
         "axis":{"orient":"left","values":[1,2,3,4,5,6,7,8,9],"tickSize":-5,"labels":false,"domain":false,"title":"Absorption (a.u.)","titlePadding":6}},
    "shape":{"datum":"exp.","type":"nominal",
      "scale":{"domain":["exp.","calcul. FeCl4","calcul. FeCl3","calcul. FeCl4 dist."],"range":["M-0.3,0A0.3,0.3 0 1,0 0.3,0A0.3,0.3 0 1,0 -0.3,0","M-1,0L1,0","M-0.12,0A0.12,0.12 0 1,0 0.12,0A0.12,0.12 0 1,0 -0.12,0M-0.05,0L0.05,0","M-1,0L-0.3,0M0.3,0L1,0"]},
      "legend":{"orient":"none","legendX":176,"legendY":-13,"title":null,"strokeColor":"black","fillColor":"white","padding":5,"labelFontSize":18.5,"labelFontWeight":"bold","labelColor":"black","labelOffset":8,"rowPadding":-0.7,"symbolSize":400,"symbolStrokeWidth":1.7,"symbolStrokeColor":"black","symbolFillColor":"transparent","labelLimit":400,"labelExpr":"datum.label + '    '"}}}},
  {"data":{"name":"bcalc"},
   "transform":[{"filter":"datum.s !== 'calcul. FeCl3'"}],
   "mark":{"type":"line","color":"black","interpolate":"monotone","strokeWidth":1.5},
   "encoding":{
    "x":{"field":"E","type":"quantitative","scale":{"domain":[7114.9,7170],"nice":false,"zero":false},
         "axis":{"orient":"top","values":[7120,7125,7130,7135,7140,7145,7150,7155,7160,7165],"tickSize":-5,"labels":false,"domain":false,"title":null}},
    "y":{"field":"A","type":"quantitative","scale":{"domain":[0,10],"nice":false,"zero":false},
         "axis":{"orient":"right","values":[1,2,3,4,5,6,7,8,9],"tickSize":-5,"labels":false,"domain":false,"title":null}},
    "strokeDash":{"field":"s","type":"nominal","scale":{"domain":["calcul. FeCl4","calcul. FeCl4 dist."],"range":[[1,0],[6,4]]},"legend":null}}},
  {"data":{"name":"bcalc"},
   "transform":[{"filter":"datum.s === 'calcul. FeCl3'"}],
   "mark":{"type":"line","color":"black","interpolate":"monotone","strokeWidth":2.7,"strokeDash":[0.1,4.3],"strokeCap":"round"},
   "encoding":{
    "x":{"field":"E","type":"quantitative","scale":{"domain":[7114.9,7170],"nice":false,"zero":false},"axis":null},
    "y":{"field":"A","type":"quantitative","scale":{"domain":[0,10],"nice":false,"zero":false},"axis":null}}},
  {"data":{"name":"barrow"},
   "mark":{"type":"rule","color":"black","strokeWidth":1.8},
   "encoding":{
    "x":{"field":"E","type":"quantitative","scale":{"domain":[7114.9,7170],"nice":false,"zero":false},"axis":null},
    "y":{"field":"y0","type":"quantitative","scale":{"domain":[0,10],"nice":false,"zero":false},"axis":null},
    "y2":{"field":"y1"}}},
  {"data":{"name":"barrow"},
   "mark":{"type":"point","shape":"M-1,-1.8L0,0L1,-1.8","filled":false,"stroke":"black","strokeWidth":1.8,"size":100,"opacity":1},
   "encoding":{
    "x":{"field":"E","type":"quantitative","scale":{"domain":[7114.9,7170],"nice":false,"zero":false},"axis":null},
    "y":{"field":"y1","type":"quantitative","scale":{"domain":[0,10],"nice":false,"zero":false},"axis":null}}}
 ],
 "resolve":{"axis":{"x":"independent","y":"independent"}}},
 {"layer":[
  {"data":{"name":"bincalc"},
   "transform":[{"filter":"datum.s !== 'calcul. FeCl3'"}],
   "mark":{"type":"line","color":"black","interpolate":"monotone","strokeWidth":1.5},
   "encoding":{
    "x":{"field":"E","type":"quantitative","scale":{"domain":[7109.25,7118.24],"range":[198.7,390],"nice":false,"zero":false},
         "axis":{"orient":"bottom","offset":-25,"values":[7110,7112.5,7115,7117.5],"format":"d","labelExpr":"datum.value % 5 == 0 ? datum.label : ''","tickSize":-5,"labelPadding":8,"domain":true,"labelFlush":false,"labelOverlap":false,"title":null}},
    "y":{"field":"A","type":"quantitative","scale":{"domain":[0,10],"range":[335,195.7],"nice":false,"zero":false},
         "axis":{"orient":"left","offset":-198.7,"ticks":false,"labels":false,"domain":true,"title":null}},
    "strokeDash":{"field":"s","type":"nominal","legend":null}}},
  {"data":{"name":"bincalc"},
   "transform":[{"filter":"datum.s === 'calcul. FeCl3'"}],
   "mark":{"type":"line","color":"black","interpolate":"monotone","strokeWidth":2.7,"strokeDash":[0.1,4.3],"strokeCap":"round"},
   "encoding":{
    "x":{"field":"E","type":"quantitative","scale":{"domain":[7109.25,7118.24],"range":[198.7,390],"nice":false,"zero":false},"axis":null},
    "y":{"field":"A","type":"quantitative","scale":{"domain":[0,10],"range":[335,195.7],"nice":false,"zero":false},"axis":null}}},
  {"data":{"name":"binexp"},
   "mark":{"type":"line","color":"black","strokeWidth":1.2},
   "encoding":{
    "x":{"field":"E","type":"quantitative","scale":{"domain":[7109.25,7118.24],"range":[198.7,390],"nice":false,"zero":false},
         "axis":{"orient":"top","offset":-195.7,"values":[7110,7112.5,7115,7117.5],"tickSize":-5,"labels":false,"domain":true,"title":null}},
    "y":{"field":"A","type":"quantitative","scale":{"domain":[0,10],"range":[335,195.7],"nice":false,"zero":false},"axis":null}}},
  {"data":{"name":"binexp"},
   "mark":{"type":"point","shape":"circle","filled":false,"stroke":"black","strokeWidth":1.4,"size":52,"opacity":1},
   "encoding":{
    "x":{"field":"E","type":"quantitative","scale":{"domain":[7109.25,7118.24],"range":[198.7,390],"nice":false,"zero":false},"axis":null},
    "y":{"field":"A","type":"quantitative","scale":{"domain":[0,10],"range":[335,195.7],"nice":false,"zero":false},"axis":null}}},
  {"data":{"name":"bvl"},
   "mark":{"type":"rule","color":"black","strokeWidth":1.5,"strokeDash":[6,4]},
   "encoding":{
    "x":{"field":"E","type":"quantitative","scale":{"domain":[7109.25,7118.24],"range":[198.7,390],"nice":false,"zero":false},"axis":null},
    "y":{"field":"y0","type":"quantitative","scale":{"domain":[0,10],"range":[335,195.7],"nice":false,"zero":false},"axis":null},
    "y2":{"field":"y1"}}}
 ],
 "resolve":{"axis":{"x":"independent"}}}
],
"resolve":{"scale":{"x":"independent","y":"independent"}}
}
],
"resolve":{"scale":{"x":"independent","y":"independent","shape":"independent","strokeDash":"independent"},"legend":{"shape":"independent"}}
}
